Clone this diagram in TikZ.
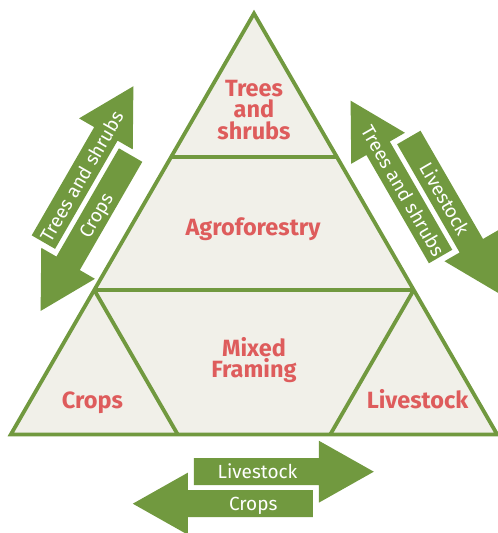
\documentclass[tikz,border=0pt]{standalone}
\usepackage{fontspec}
\setmainfont{Fira Sans}
\usetikzlibrary{positioning,calc}
\definecolor{leaf}{RGB}{113,153,63}
\definecolor{rose}{RGB}{222,92,92}
\definecolor{paper}{RGB}{241,240,233}

\begin{document}
\begin{tikzpicture}
[x=1pt, y=1pt, line width=3.8pt, line join=miter,
level/.style={font=\fontsize{23.5}{21.3}\selectfont\bfseries, text=rose, align=center, inner sep=0pt},
flow/.style={font=\fontsize{19}{19}\selectfont, text=white, inner sep=0pt, text height=13.2pt, text depth=0pt}]

\useasboundingbox (0,0) rectangle (498,533);

% pyramid
\coordinate (apex) at (254,519.5);
\coordinate (bl) at (10.8,98.5);
\coordinate (br) at (497.2,98.5);
\coordinate (l1) at ($(apex)!0.3409!(bl)$);
\coordinate (r1) at ($(apex)!0.3409!(br)$);
\coordinate (l2) at ($(apex)!0.6568!(bl)$);
\coordinate (r2) at ($(apex)!0.6568!(br)$);
\coordinate (m1) at ($(bl)!0.3432!(br)$);
\coordinate (m2) at ($(br)!0.3432!(bl)$);

\draw[leaf, fill=paper] (apex) -- (bl) -- (br) -- cycle;
\draw[leaf] (l1) -- (r1);
\draw[leaf] (l2) -- (r2);
\draw[leaf] (l2) -- (m1);
\draw[leaf] (r2) -- (m2);

\node[level, anchor=base] (trees) at (254,393.7) {Trees\\and\\shrubs};
\node[level, anchor=base] (agro) at (253,297) {Agroforestry};
\node[level, anchor=base] (mixed) at (254,155.3) {Mixed\\Framing};
\node[level, anchor=base] (crops) at (92.5,124.7) {Crops};
\node[level, anchor=base] (stock) at (417.5,124.7) {Livestock};

% arrow pairs: forward one at +16, backward one at -16
\foreach \cx/\cy/\ang in {87/334.4/60, 424.7/336/120, 253.3/45.3/0} {
  \begin{scope}[shift={(\cx,\cy)}, rotate=\ang]
    \fill[leaf] (-59.5,2.5) -- (65.5,2.5) -- (65.5,-15) -- (120.5,16) -- (65.5,47) -- (65.5,29.5) -- (-59.5,29.5) -- cycle;
    \fill[leaf] (59.5,-2.5) -- (-65.5,-2.5) -- (-65.5,15) -- (-120.5,-16) -- (-65.5,-47) -- (-65.5,-29.5) -- (59.5,-29.5) -- cycle;
  \end{scope}
}

\node[flow, rotate=60] (ltrees) at (81.9,356.4) {Trees and shrubs};
\node[flow, rotate=60] (lcrops) at (95.9,317.7) {Crops};
\node[flow, rotate=-60] (rtrees) at (402.8,341.9) {Trees and shrubs};
\node[flow, rotate=-60] (rstock) at (444.3,334) {Livestock};
\node[flow] (bstock) at (257.5,61.3) {Livestock};
\node[flow] (bcrops) at (253.3,29.2) {Crops};

\end{tikzpicture}
\end{document}
